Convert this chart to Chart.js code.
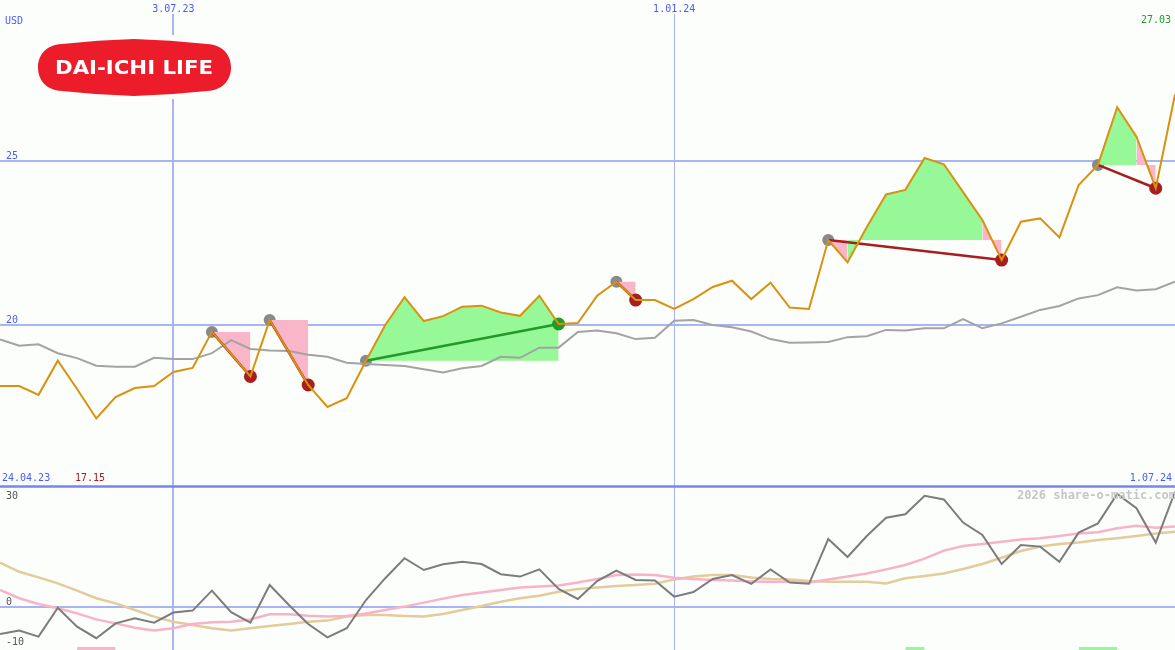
<!DOCTYPE html>
<html lang="en">
<head>
<meta charset="UTF-8">
<title>DAI-ICHI LIFE | USD</title>
<script src="https://cdn.jsdelivr.net/npm/chart.js"></script>
<style>
    html, body { margin: 0; padding: 0; background: #fbfefb; }
    #wrap { width: 1175px; height: 650px; }
</style>
</head>
<body>
<div id="wrap"><canvas id="chart" width="1175" height="650"></canvas></div>

<script>
    // weekly closes 1.05.23 .. 1.07.24 (USD)
    const price = [18.14, 18.14, 17.87, 18.91, 18.05, 17.15, 17.80, 18.08, 18.14, 18.57,
        18.69, 19.79, 19.12, 18.43, 20.15, 19.16, 18.17, 17.50, 17.77, 18.91,
        20.00, 20.85, 20.12, 20.27, 20.56, 20.59, 20.38, 20.28, 20.89, 20.03,
        20.06, 20.89, 21.32, 20.76, 20.76, 20.49, 20.79, 21.16, 21.35, 20.79,
        21.29, 20.53, 20.49, 22.59, 21.91, 22.99, 23.98, 24.12, 25.09, 24.90,
        24.05, 23.20, 21.98, 23.15, 23.25, 22.67, 24.27, 24.88, 26.64, 25.74,
        24.17, 27.03];

    // moving average (grey)
    const avg = [19.56, 19.37, 19.41, 19.14, 18.99, 18.76, 18.73, 18.73, 19.00, 18.96,
        18.96, 19.14, 19.54, 19.27, 19.22, 19.21, 19.09, 19.03, 18.85, 18.81,
        18.78, 18.75, 18.65, 18.55, 18.68, 18.75, 19.03, 19.00, 19.31, 19.31,
        19.79, 19.83, 19.75, 19.57, 19.61, 20.13, 20.15, 20.00, 19.93, 19.80,
        19.57, 19.46, 19.47, 19.48, 19.63, 19.66, 19.85, 19.83, 19.90, 19.90,
        20.18, 19.90, 20.05, 20.25, 20.46, 20.58, 20.81, 20.91, 21.15, 21.05,
        21.09, 21.32];

    // lower panel
    const mom = [-6.75, -5.9, -7.4, -0.2, -4.9, -7.8, -4.1, -2.8, -3.9, -1.4,
        -0.9, 4.1, -1.3, -3.9, 5.5, 0.5, -4.25, -7.6, -5.3, 1.75,
        7.2, 12.2, 9.25, 10.7, 11.3, 10.75, 8.2, 7.6, 9.4, 4.5,
        2.0, 6.5, 9.1, 6.75, 6.6, 2.6, 3.75, 7.0, 8.0, 5.8,
        9.4, 6.1, 5.8, 17.0, 12.5, 17.75, 22.3, 23.2, 27.8, 26.9,
        21.1, 18.0, 10.75, 15.5, 15.1, 11.3, 18.6, 20.9, 28.25, 24.7,
        16.1, 28.8];
    const momFast = [4.25, 2.2, 0.75, -0.3, -1.6, -3.1, -4.1, -5.2, -5.9, -5.3,
        -4.25, -3.8, -3.7, -3.1, -1.8, -1.8, -2.2, -2.4, -2.25, -1.6,
        -0.75, 0.1, 1.1, 2.1, 3.0, 3.6, 4.25, 4.9, 5.1, 5.4,
        6.1, 7.0, 8.0, 8.1, 8.0, 7.3, 7.0, 6.75, 6.6, 6.4,
        6.3, 6.3, 6.1, 6.9, 7.6, 8.4, 9.4, 10.5, 12.1, 14.1,
        15.25, 15.75, 16.3, 16.9, 17.2, 17.75, 18.4, 18.7, 19.7, 20.3,
        19.8, 20.1];
    const momSlow = [11.1, 8.8, 7.4, 5.9, 4.1, 2.2, 0.9, -0.75, -2.4, -3.7,
        -4.5, -5.3, -5.9, -5.3, -4.75, -4.25, -3.7, -3.4, -2.4, -2.0,
        -2.0, -2.25, -2.4, -1.75, -0.75, 0.25, 1.3, 2.2, 2.8, 3.8,
        4.5, 4.9, 5.25, 5.5, 5.8, 6.9, 7.6, 8.0, 8.0, 7.4,
        7.0, 6.9, 6.5, 6.3, 6.3, 6.3, 5.9, 7.2, 7.75, 8.4,
        9.5, 10.75, 12.3, 14.0, 15.1, 15.75, 16.1, 16.75, 17.2, 17.75,
        18.4, 18.8];

    const priceTicks = [20, 25];
    const momTicks = [30, 0, -10];
    const dateTickIdx = [9, 35];
    const dateTickLabels = ['3.07.23', '1.01.24'];
    const rangeStart = '24.04.23';
    const rangeEnd = '1.07.24';
    const lowLabel = '17.15';
    const lastLabel = '27.03';

    // signals (week index from -> to)
    const sigFrom = [11, 14, 19, 32, 43, 57];
    const sigTo = [13, 16, 29, 33, 52, 60];

    // marker bars under the oscillator
    const barFrom = [4, 47, 56];
    const barTo = [6, 48, 58];
    const barUp = [false, true, true];
    const barLevel = -10;

    const BG = '#fbfefb';
    const GRID = '#a8b4f4';
    const BLUE = '#4c5cf2';
    const GREEN_FILL = '#96f896';
    const PINK_FILL = '#f9b6c9';
    const RED = '#a61e1e';
    const GREEN = '#22992a';

    function pts(arr) {
        return arr.map(function (v, i) { return { x: i, y: v }; });
    }

    let datasets = [];

    datasets.push({ data: pts(price), borderColor: '#d9920f', borderWidth: 2, pointRadius: 0, order: 0 });
    datasets.push({ data: pts(avg), borderColor: '#a3a3a3', borderWidth: 2, pointRadius: 0, order: 3 });

    // fill between the price and the signal level, one dataset per run of same colour
    function pushFill(ref, j0, j1, color) {
        let d = [];
        for (let j = j0; j <= j1; j++) d.push({ x: j, y: price[j] });
        datasets.push({
            data: d, fill: { value: ref }, backgroundColor: color,
            borderColor: 'rgba(0,0,0,0)', borderWidth: 0, pointRadius: 0, order: 4
        });
    }

    for (let k = 0; k < sigFrom.length; k++) {
        let a = sigFrom[k], b = sigTo[k];
        let ref = price[a];
        let up = price[b] > ref;
        let runStart = a;
        for (let j = a; j < b; j++) {
            let c = price[j + 1] > ref;
            let next = j + 1 < b ? price[j + 2] > ref : null;
            if (next !== c) {
                pushFill(ref, runStart, j + 1, c ? GREEN_FILL : PINK_FILL);
                runStart = j + 1;
            }
        }
        datasets.push({
            data: [{ x: a, y: ref }, { x: b, y: price[b] }],
            borderColor: up ? GREEN : RED, borderWidth: 2.5, pointRadius: 0, order: 2
        });
    }

    datasets.push({
        data: sigFrom.map(function (i) { return { x: i, y: price[i] }; }),
        showLine: false, pointRadius: 6, pointBorderWidth: 0,
        pointBackgroundColor: '#8a8a8a', order: 5
    });
    datasets.push({
        data: sigTo.map(function (i) { return { x: i, y: price[i] }; }),
        showLine: false, pointRadius: 6.5, pointBorderWidth: 0,
        pointBackgroundColor: sigTo.map(function (i, k) { return price[i] > price[sigFrom[k]] ? GREEN : RED; }),
        order: 1
    });

    datasets.push({ data: pts(mom), yAxisID: 'y2', borderColor: '#7c7c7c', borderWidth: 2, pointRadius: 0, order: 6 });
    datasets.push({ data: pts(momFast), yAxisID: 'y2', borderColor: '#f9b3c9', borderWidth: 2.5, pointRadius: 0, order: 7 });
    datasets.push({ data: pts(momSlow), yAxisID: 'y2', borderColor: '#e3cb9a', borderWidth: 2.5, pointRadius: 0, order: 8 });

    for (let k = 0; k < barFrom.length; k++) {
        datasets.push({
            data: [{ x: barFrom[k], y: barLevel }, { x: barTo[k], y: barLevel }],
            yAxisID: 'y2', fill: 'start',
            backgroundColor: barUp[k] ? GREEN_FILL : PINK_FILL,
            borderColor: 'rgba(0,0,0,0)', borderWidth: 0, pointRadius: 0, order: 9
        });
    }

    function hline(ctx, x1, x2, y) {
        ctx.beginPath(); ctx.moveTo(x1, y); ctx.lineTo(x2, y); ctx.stroke();
    }

    const gridPlugin = {
        id: 'grid',
        beforeDraw(chart) {
            const ctx = chart.ctx;
            ctx.save();
            ctx.fillStyle = BG;
            ctx.fillRect(0, 0, chart.width, chart.height);
            ctx.restore();
        },
        beforeDatasetsDraw(chart) {
            const { ctx, chartArea: a, scales } = chart;
            ctx.save();
            ctx.strokeStyle = GRID;
            ctx.lineWidth = 2;
            priceTicks.forEach(function (v) {
                hline(ctx, a.left, a.right, Math.round(scales.y.getPixelForValue(v)));
            });
            hline(ctx, a.left, a.right, Math.round(scales.y2.getPixelForValue(0)));
            dateTickIdx.forEach(function (i, k) {
                let x = Math.round(scales.x.getPixelForValue(i));
                ctx.lineWidth = k === 0 ? 2 : 1;
                ctx.beginPath();
                ctx.moveTo(k === 0 ? x : x + 0.5, 14);
                ctx.lineTo(k === 0 ? x : x + 0.5, a.bottom);
                ctx.stroke();
            });
            ctx.strokeStyle = '#7686ec';
            ctx.lineWidth = 2.5;
            hline(ctx, a.left, a.right, scales.y2.getPixelForValue(momTicks[0]) - 0.5);
            ctx.restore();
        },
        afterDraw(chart) {
            const { ctx, scales } = chart;
            ctx.save();
            drawLogo(ctx);

            ctx.font = '10px "DejaVu Sans Mono"';
            ctx.textBaseline = 'middle';
            ctx.fillStyle = BLUE;
            ctx.textAlign = 'left';
            ctx.fillText('USD', 5, 21);
            priceTicks.forEach(function (v) {
                ctx.fillText(String(v), 6, scales.y.getPixelForValue(v) - 5);
            });
            ctx.fillText(rangeStart, 2, 478.5);
            ctx.textAlign = 'center';
            dateTickIdx.forEach(function (i, k) {
                ctx.fillText(dateTickLabels[k], scales.x.getPixelForValue(i), 9);
            });
            ctx.textAlign = 'right';
            ctx.fillText(rangeEnd, 1172, 478.5);
            ctx.fillStyle = GREEN;
            ctx.fillText(lastLabel, 1171, 20.5);
            ctx.textAlign = 'left';
            ctx.fillStyle = RED;
            ctx.fillText(lowLabel, 75, 478.5);

            ctx.fillStyle = '#555555';
            momTicks.forEach(function (v) {
                let y = scales.y2.getPixelForValue(v);
                ctx.fillText(String(v), 6, y < 495 ? y + 9 : y - 5);
            });

            ctx.font = 'bold 12px "DejaVu Sans Mono"';
            ctx.fillStyle = '#c6c6c6';
            ctx.textAlign = 'right';
            ctx.fillText('2026 share-o-matic.com', 1176, 496);
            ctx.restore();
        }
    };

    function drawLogo(ctx) {
        ctx.fillStyle = BG;
        ctx.fillRect(34, 35, 204, 64);
        ctx.fillStyle = '#ec1c2b';
        ctx.beginPath();
        ctx.moveTo(62, 44);
        ctx.quadraticCurveTo(98, 40, 134, 39);
        ctx.quadraticCurveTo(170, 40, 207, 44);
        ctx.bezierCurveTo(224, 45, 231, 56, 231, 67.5);
        ctx.bezierCurveTo(231, 79, 224, 90, 207, 91);
        ctx.quadraticCurveTo(170, 95, 134, 96);
        ctx.quadraticCurveTo(98, 95, 62, 91);
        ctx.bezierCurveTo(45, 90, 38, 79, 38, 67.5);
        ctx.bezierCurveTo(38, 56, 45, 45, 62, 44);
        ctx.closePath();
        ctx.fill();

        ctx.font = 'bold 19px "DejaVu Sans"';
        ctx.fillStyle = '#ffffff';
        ctx.textAlign = 'left';
        ctx.textBaseline = 'alphabetic';
        let txt = 'DAI-ICHI LIFE';
        let w = ctx.measureText(txt).width;
        ctx.save();
        ctx.translate(55, 74);
        ctx.scale(158 / w, 1);
        ctx.fillText(txt, 0, 0);
        ctx.restore();
    }

    new Chart(document.getElementById('chart'), {
        type: 'line',
        data: { datasets: datasets },
        options: {
            responsive: false,
            animation: false,
            events: [],
            layout: { padding: 0, autoPadding: false },
            elements: { line: { tension: 0 } },
            plugins: { legend: { display: false }, tooltip: { enabled: false } },
            scales: {
                x: { type: 'linear', min: 0, max: price.length - 1, display: false },
                y: { min: 10.0915, max: 29.9085, display: false },
                y2: { min: -10.75, max: 151.75, display: false }
            }
        },
        plugins: [gridPlugin]
    });
</script>
</body>
</html>
